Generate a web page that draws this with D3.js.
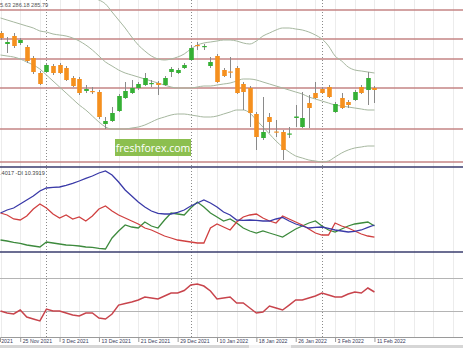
<!DOCTYPE html>
<html>
<head>
<meta charset="utf-8">
<script src="https://cdn.jsdelivr.net/npm/d3@7"></script>
<style>
  body { margin: 0; background: #fff; }
  svg { display: block; font-family: "Liberation Sans", sans-serif; }
</style>
</head>
<body>
<svg id="chart" width="463" height="348"></svg>
<script>
// daily candles, 17 Nov 2021 .. 11 Feb 2022 (index 0 = first visible bar)
const opens  = [291.3,290.2,291.0,290.3,289.9,288.8,287.3,287.4,288.0,288.1,287.8,286.8,286.7,285.5,285.5,285.4,282.2,282.5,283.5,284.8,285.3,285.8,286.1,286.2,286.3,286.1,287.4,287.3,287.8,288.6,290.1,289.9,288.0,289.0,287.6,287.45,287.8,286.2,285.8,283.2,280.8,282.9,281.45,281.4,281.15,282.8,281.9,284.3,285.3,285.7,285.9,283.4,284.8,284.4,284.6,285.9,285.6,285.8];
const highs  = [291.5,290.9,291.3,290.8,290.1,289.0,287.5,288.2,288.2,288.3,288.0,287.0,286.9,286.1,285.9,285.6,282.9,283.9,285.2,286.4,286.6,286.4,287.3,286.6,286.5,287.0,287.9,287.8,288.3,290.0,290.4,290.2,288.9,289.2,287.8,288.9,288.0,286.4,286.0,283.4,284.9,283.3,282.6,281.6,281.9,284.1,285.4,285.1,286.4,285.9,286.1,284.4,285.3,284.6,285.6,286.1,287.4,286.0];
const lows   = [290.6,289.3,289.8,290.1,288.3,287.2,286.1,287.3,287.1,287.2,286.5,285.9,285.1,285.3,285.2,282.7,281.7,282.4,283.4,284.7,285.2,285.6,286.0,285.9,285.1,286.0,286.9,287.2,287.7,288.5,289.6,289.6,287.8,286.3,286.9,286.8,285.2,283.6,281.9,279.6,280.6,281.3,280.9,278.6,280.8,281.9,281.8,281.8,284.7,285.2,284.8,283.3,283.7,283.8,284.5,285.2,284.1,284.3];
const closes = [290.8,290.4,290.0,290.6,288.5,287.4,286.2,288.1,287.3,287.3,286.6,286.0,285.3,285.7,285.4,282.9,282.5,283.3,285.0,285.5,285.8,286.2,286.8,286.3,286.1,286.8,287.7,287.6,288.1,289.8,290.0,290.0,288.4,286.4,287.0,287.35,285.3,285.4,283.3,280.9,281.4,282.4,281.35,279.6,281.25,282.95,282.8,283.8,284.8,285.3,284.9,284.2,283.8,284.1,285.4,285.3,286.8,285.6];

// Bollinger bands (20)
const bbUpper = [297.6,297.4,297.2,297.0,296.8,296.6,296.4,296.2,296.0,295.8,295.6,295.4,295.2,295.0,294.8,294.6,294.2,293.4,292.6,291.8,290.9,290.1,289.5,289.0,288.7,288.6,288.7,288.9,289.2,289.7,290.1,290.3,290.4,290.5,290.6,290.6,290.5,290.3,290.2,290.5,291.0,291.3,291.6,291.8,291.8,291.7,291.6,291.4,291.1,290.7,290.0,289.0,288.5,287.9,287.6,287.5,287.4,287.3];
const bbMid   = [292.8,292.6,292.4,292.2,292.0,291.8,291.5,291.4,291.2,291.1,291.0,290.8,290.5,290.1,289.6,289.0,288.4,288.0,287.6,287.3,287.1,286.9,286.7,286.5,286.3,286.1,285.9,285.8,285.8,285.8,285.9,286.0,286.0,286.1,286.2,286.3,286.5,286.7,286.7,286.6,286.4,286.2,286.0,285.8,285.6,285.4,285.2,284.9,284.7,284.5,284.3,284.1,284.0,283.9,283.8,283.7,283.6,283.6];
const bbLower = [289.1,289.0,288.9,288.7,288.4,288.1,287.7,287.1,286.5,285.9,285.3,284.7,284.1,283.6,283.0,282.4,281.9,281.7,281.7,281.7,281.8,281.9,282.1,282.4,282.7,282.9,283.1,283.2,283.2,283.1,283.0,282.9,282.9,283.0,283.2,283.4,283.6,283.6,283.3,282.6,281.9,281.2,280.5,279.9,279.4,279.0,278.8,278.6,278.5,278.4,278.5,278.9,279.3,279.6,279.8,279.9,280.0,280.0];

// support / resistance levels
const levels = [293.6, 290.7, 288.7, 285.8, 281.7, 278.4];

// ADX(14)
const adx     = [27.3,29.4,30.8,33.6,36.4,39.2,42.7,44.8,45.2,45.5,46.6,48.0,49.7,51.5,53.2,55.3,56.7,53.9,49.0,43.4,39.2,35.0,31.5,28.7,27.0,26.6,26.6,27.7,29.4,32.2,34.3,36.4,34.3,31.5,28.0,25.9,22.4,22.1,22.4,22.1,21.7,21.7,23.1,24.2,21.7,19.6,18.2,16.8,17.2,17.5,16.5,15.4,14.7,14.0,14.4,15.4,17.2,18.9];
const plusDI  = [8.4,7.7,6.7,6.0,4.9,4.2,3.5,7.0,6.3,5.6,4.9,4.6,4.2,3.5,3.2,2.5,2.1,9.8,14.7,18.9,17.5,16.8,21.0,18.2,16.8,22.4,27.3,26.6,25.9,30.8,35.0,31.5,27.3,24.5,21.7,23.1,20.3,16.8,14.7,13.3,14.7,13.3,11.9,10.5,13.3,16.1,18.2,20.3,21.7,18.2,15.4,14.0,16.1,18.2,19.6,20.3,21.0,18.2];
const minusDI = [27.3,25.9,23.1,22.4,25.2,30.1,33.6,30.8,26.6,23.8,25.9,23.1,24.5,21.7,25.2,30.1,32.2,28.7,25.9,23.8,21.7,19.6,16.8,15.4,13.3,11.2,9.8,8.4,7.7,7.0,6.3,6.3,16.8,19.6,17.5,15.4,21.0,24.5,25.9,26.6,23.8,21.7,20.3,25.2,23.1,21.0,18.9,16.1,13.3,11.9,11.9,20.3,18.2,16.8,14.7,12.6,11.2,10.4];

// RSI(14)
const rsi = [30.1,27.7,26.5,31.3,22.9,20.5,18.1,32.5,30.1,30.1,27.7,25.3,24.1,27.7,27.7,21.7,20.5,26.5,37.3,39.2,41.0,43.4,47.0,45.8,44.6,48.2,51.8,51.8,54.8,61.4,62.7,60.2,54.2,44.6,45.8,47.0,39.8,39.8,33.7,27.7,28.9,36.1,33.7,31.3,37.3,43.4,43.4,45.8,48.2,51.8,49.4,47.0,47.0,50.6,53.0,51.8,57.8,53.0];
const rsiLevels = [70, 30];

// time axis
const tickIndex  = [-3, 3, 9, 15, 21, 27, 33, 39, 45, 51, 57];
const tickLabels = ["17 Nov 2021","25 Nov 2021","3 Dec 2021","13 Dec 2021","21 Dec 2021","29 Dec 2021","10 Jan 2022","18 Jan 2022","26 Jan 2022","3 Feb 2022","11 Feb 2022"];
const monthStarts = [7, 29, 49];

const W = 463, H = 348;
const svg = d3.select('#chart');

const x = d3.scaleLinear().domain([-0.08, 70.5]).range([0, W]);
const priceY = d3.scaleLinear().domain([278.4, 294.6]).range([162, 0]);
const adxY = d3.scaleLinear().domain([0, 59.5]).range([252, 167]);
const rsiY = d3.scaleLinear().domain([0, 100]).range([336, 253]);

const idx = d3.range(opens.length);

// clip areas for the three panes
const defs = svg.append('defs');
[['clipPrice', 0, 166], ['clipAdx', 168, 251], ['clipRsi', 253, 336]].forEach(function (c) {
  defs.append('clipPath').attr('id', c[0])
    .append('rect').attr('x', 0).attr('y', c[1]).attr('width', W).attr('height', c[2] - c[1]);
});

// vertical grid every 3 bars
svg.append('g').selectAll('line')
  .data(d3.range(0, 71, 3))
  .enter().append('line')
  .attr('x1', d => Math.round(x(d)) + 0.5).attr('x2', d => Math.round(x(d)) + 0.5)
  .attr('y1', 0).attr('y2', 337)
  .attr('stroke', '#ececec').attr('stroke-width', 1);

// month separators
svg.append('g').selectAll('line')
  .data(monthStarts)
  .enter().append('line')
  .attr('x1', d => Math.round(x(d)) + 0.5).attr('x2', d => Math.round(x(d)) + 0.5)
  .attr('y1', 0).attr('y2', 337)
  .attr('stroke', '#8a8a8a').attr('stroke-width', 1).attr('stroke-dasharray', '1,2');

// ---------- price pane ----------
const gp = svg.append('g').attr('clip-path', 'url(#clipPrice)');

gp.selectAll('line.level')
  .data(levels)
  .enter().append('line')
  .attr('class', 'level')
  .attr('x1', 0).attr('x2', W)
  .attr('y1', d => priceY(d)).attr('y2', d => priceY(d))
  .attr('stroke', '#c48485').attr('stroke-width', 1.3);

const bandLine = d3.line().x((d, i) => x(i)).y(d => priceY(d)).curve(d3.curveMonotoneX);
[bbUpper, bbMid, bbLower].forEach(function (band) {
  gp.append('path').datum(band)
    .attr('d', bandLine)
    .attr('fill', 'none').attr('stroke', '#a6b79f').attr('stroke-width', 1);
});

const candles = gp.selectAll('g.candle')
  .data(idx)
  .enter().append('g').attr('class', 'candle');

candles.append('line')
  .attr('x1', i => Math.round(x(i)) + 0.5).attr('x2', i => Math.round(x(i)) + 0.5)
  .attr('y1', i => priceY(highs[i])).attr('y2', i => priceY(lows[i]))
  .attr('stroke', '#8a8a8a').attr('stroke-width', 1);

candles.append('rect')
  .attr('x', i => Math.round(x(i)) - 1.8)
  .attr('width', 4.6)
  .attr('y', i => priceY(Math.max(opens[i], closes[i])))
  .attr('height', i => Math.max(1.2, Math.abs(priceY(opens[i]) - priceY(closes[i]))))
  .attr('fill', i => closes[i] >= opens[i] ? '#35b035' : '#f5901e');

// watermark
svg.append('rect').attr('x', 115).attr('y', 139).attr('width', 76).attr('height', 17).attr('fill', '#8cbf4f');
svg.append('text').attr('x', 153).attr('y', 151.5).attr('text-anchor', 'middle')
  .attr('fill', '#fff').attr('font-size', 10.5).attr('font-family', 'Open Sans, sans-serif')
  .text('freshforex.com');

svg.append('text').attr('x', 0).attr('y', 6.5).attr('font-size', 5.6).attr('fill', '#555')
  .text('5.63 286.18 285.79');

// ---------- ADX pane ----------
const ga = svg.append('g').attr('clip-path', 'url(#clipAdx)');
const adxLine = d3.line().x((d, i) => x(i)).y(d => adxY(d));
[[plusDI, '#3d8a3d'], [minusDI, '#d04040'], [adx, '#3a3aa8']].forEach(function (s) {
  ga.append('path').datum(s[0])
    .attr('d', adxLine)
    .attr('fill', 'none').attr('stroke', s[1]).attr('stroke-width', 1.3);
});
svg.append('text').attr('x', 0).attr('y', 174.5).attr('font-size', 5.6).attr('fill', '#444')
  .text('.4017 -DI 10.3919');

// ---------- RSI pane ----------
const gr = svg.append('g').attr('clip-path', 'url(#clipRsi)');
gr.selectAll('line.rl')
  .data(rsiLevels)
  .enter().append('line').attr('class', 'rl')
  .attr('x1', 0).attr('x2', W)
  .attr('y1', d => Math.round(rsiY(d)) + 0.5).attr('y2', d => Math.round(rsiY(d)) + 0.5)
  .attr('stroke', '#b4b4b4').attr('stroke-width', 1);
gr.append('path').datum(rsi)
  .attr('d', d3.line().x((d, i) => x(i)).y(d => rsiY(d)))
  .attr('fill', 'none').attr('stroke', '#c8444c').attr('stroke-width', 1.5);

// pane borders
[167, 252].forEach(function (yy) {
  svg.append('line').attr('x1', 0).attr('x2', W).attr('y1', yy).attr('y2', yy)
    .attr('stroke', '#3a3d6e').attr('stroke-width', 1.5);
});

// ---------- time axis ----------
const axis = d3.axisBottom(x)
  .tickValues(tickIndex)
  .tickFormat((d, i) => tickLabels[i])
  .tickSize(5);
const gx = svg.append('g').attr('transform', 'translate(0,337)').call(axis);
gx.select('.domain').attr('stroke', '#9a9a9a');
gx.selectAll('.tick line').attr('stroke', '#9a9a9a');
gx.selectAll('.tick text')
  .attr('text-anchor', 'start').attr('x', 2).attr('y', 2.5)
  .attr('font-size', 5.2).attr('fill', '#3a3d5a').attr('font-family', 'Liberation Sans, sans-serif');

svg.append('rect').attr('x', 0).attr('y', 345).attr('width', W).attr('height', 3).attr('fill', '#d6d6d6');
svg.append('rect').attr('x', 249).attr('y', 345).attr('width', 42).attr('height', 3).attr('fill', '#f4f4f4');
</script>
</body>
</html>
